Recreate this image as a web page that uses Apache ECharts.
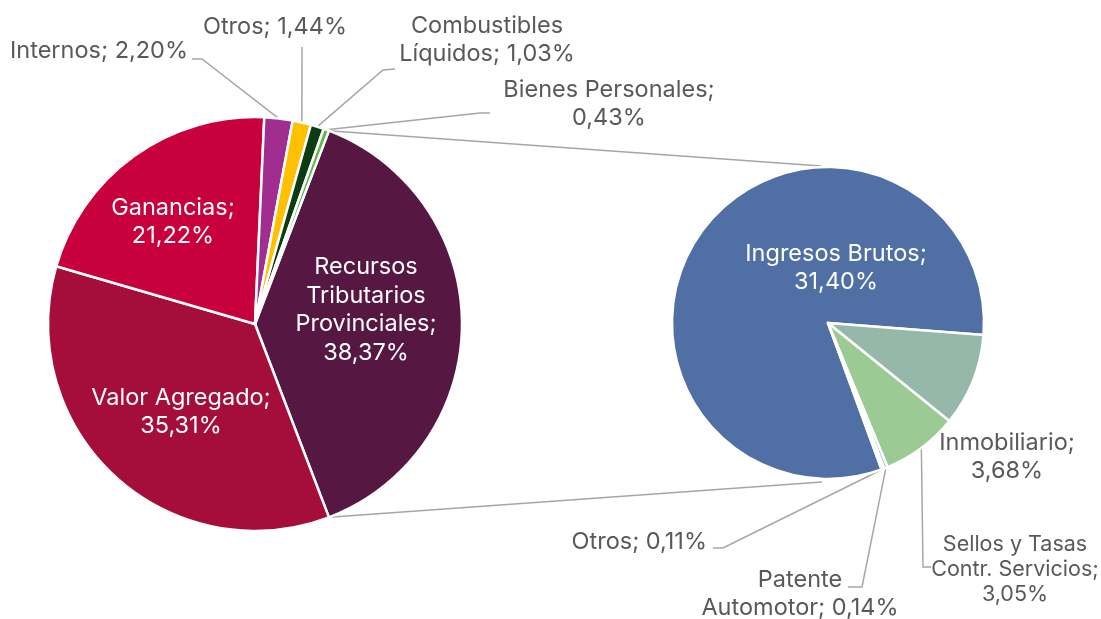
<!DOCTYPE html>
<html>
<head>
<meta charset="utf-8">
<script src="https://cdn.jsdelivr.net/npm/echarts@6/dist/echarts.min.js"></script>
<style>
  html, body { margin: 0; padding: 0; background: #fff; }
  #chart { width: 1101px; height: 619px; }
</style>
</head>
<body>
<div id="chart"></div>
<script>
// 主饼图数据（%）
const mainNames = ['Recursos Tributarios Provinciales', 'Valor Agregado', 'Ganancias', 'Internos', 'Otros', 'Combustibles Líquidos', 'Bienes Personales'];
const mainLabels = ['Recursos\nTributarios\nProvinciales;\n{v}', 'Valor Agregado;\n{v}', 'Ganancias;\n{v}', 'Internos; {v}', 'Otros; {v}', 'Combustibles\nLíquidos; {v}', 'Bienes Personales;\n{v}'];
const mainValues = [38.37, 35.31, 21.22, 2.20, 1.44, 1.03, 0.43];
const mainColors = ['#561842', '#A50E3B', '#C8003C', '#A12D91', '#FFC000', '#0D3B12', '#5BB947'];

// 子饼图：Recursos Tributarios Provinciales 拆分
const subNames = ['Ingresos Brutos', 'Inmobiliario', 'Sellos y Tasas Contr. Servicios', 'Patente Automotor', 'Otros'];
const subLabels = ['Ingresos Brutos;\n{v}', 'Inmobiliario;\n{v}', 'Sellos y Tasas\nContr. Servicios;\n{v}', 'Patente\nAutomotor; {v}', 'Otros; {v}'];
const subValues = [31.40, 3.68, 3.05, 0.14, 0.11];
const subColors = ['#4F6FA5', '#96B8AA', '#9BCB92', '#8FAADC', '#D9D9D9'];

// 布局
const MAIN_C = [255, 324], MAIN_R = 207;
const SUB_C = [828, 323], SUB_R = 156;
const SUB_START = 290.1;
const LINE_COLOR = '#A6A6A6';
const TEXT_COLOR = '#595959';

// 标签位置（inside 标签无引线）
const MAIN_POS = [
  { x: 366, y: 310, inside: true },
  { x: 181, y: 412, inside: true },
  { x: 173, y: 222, inside: true },
  { x: 188, y: 51, align: 'right', line: [[202, 59], [192, 59]] },
  { x: 275, y: 27, line: [[302, 47]] },
  { x: 487, y: 40, line: [[383, 70], [395, 69]] },
  { x: 609, y: 104, line: [[480, 113], [490, 113]] }
];
const SUB_POS = [
  { x: 836, y: 268, inside: true },
  { x: 1007, y: 457, noLine: true },
  { x: 1015, y: 570, small: true, line: [[923, 567], [931, 567]] },
  { x: 800, y: 594, line: [[862, 587], [848, 587]] },
  { x: 707, y: 542, align: 'right', line: [[723, 548], [713, 548]] }
];

const mainStart = mainValues[0] / sum(mainValues) * 360 / 2;

function sum(arr) { return arr.reduce((s, v) => s + v, 0); }
function fmt(v) { return v.toFixed(2).replace('.', ',') + '%'; }

// 扇区外弧中点
function arcMid(values, start, idx, c, r) {
  const total = sum(values);
  let cum = 0;
  for (let i = 0; i < idx; i++) cum += values[i];
  const ang = (start - (cum + values[idx] / 2) / total * 360) * Math.PI / 180;
  return [c[0] + r * Math.cos(ang), c[1] - r * Math.sin(ang)];
}
function arcPoint(c, r, deg) {
  const a = deg * Math.PI / 180;
  return [c[0] + r * Math.cos(a), c[1] - r * Math.sin(a)];
}

function buildData(names, values, colors, labels, pos) {
  return names.map((n, i) => ({
    name: n,
    value: values[i],
    itemStyle: { color: colors[i] },
    label: {
      position: pos[i].inside ? 'inside' : 'outside',
      color: pos[i].inside ? '#fff' : TEXT_COLOR,
      fontSize: pos[i].small ? 21.5 : 23.5,
      lineHeight: pos[i].small ? 25 : 28.5,
      formatter: labels[i].replace('{v}', fmt(values[i]))
    },
    labelLine: { show: !pos[i].inside && !pos[i].noLine }
  }));
}

function makeLayout(values, start, c, r, pos) {
  return function (params) {
    const p = pos[params.dataIndex];
    const out = { x: p.x, y: p.y, align: p.align || 'center', verticalAlign: 'middle' };
    if (p.line) {
      out.labelLinePoints = [arcMid(values, start, params.dataIndex, c, r)].concat(p.line);
    }
    return out;
  };
}

const baseSeries = {
  type: 'pie',
  avoidLabelOverlap: false,
  clockwise: true,
  animation: false,
  silent: true,
  itemStyle: { borderColor: '#fff', borderWidth: 2.5 },
  label: { show: true, fontFamily: 'Inter', textBorderWidth: 0 },
  labelLine: { show: true, smooth: false, lineStyle: { color: LINE_COLOR, width: 1.5 } },
  emphasis: { disabled: true }
};

// 连接线：主饼拆分扇区边缘 → 子饼上下
const topA = arcPoint(MAIN_C, MAIN_R, mainStart);
const botA = arcPoint(MAIN_C, MAIN_R, -mainStart);

const chart = echarts.init(document.getElementById('chart'));
chart.setOption({
  backgroundColor: '#fff',
  animation: false,
  series: [
    Object.assign({}, baseSeries, {
      center: MAIN_C,
      radius: MAIN_R,
      startAngle: mainStart,
      data: buildData(mainNames, mainValues, mainColors, mainLabels, MAIN_POS),
      labelLayout: makeLayout(mainValues, mainStart, MAIN_C, MAIN_R, MAIN_POS)
    }),
    Object.assign({}, baseSeries, {
      center: SUB_C,
      radius: SUB_R,
      startAngle: SUB_START,
      data: buildData(subNames, subValues, subColors, subLabels, SUB_POS),
      labelLayout: makeLayout(subValues, SUB_START, SUB_C, SUB_R, SUB_POS)
    })
  ],
  graphic: [
    {
      type: 'line', silent: true, z: 1,
      shape: { x1: topA[0], y1: topA[1], x2: SUB_C[0] - 7, y2: SUB_C[1] - SUB_R - 1 },
      style: { stroke: LINE_COLOR, lineWidth: 1.5 }
    },
    {
      type: 'line', silent: true, z: 1,
      shape: { x1: botA[0], y1: botA[1], x2: SUB_C[0] - 6, y2: SUB_C[1] + SUB_R + 3 },
      style: { stroke: LINE_COLOR, lineWidth: 1.5 }
    }
  ]
});
</script>
</body>
</html>
